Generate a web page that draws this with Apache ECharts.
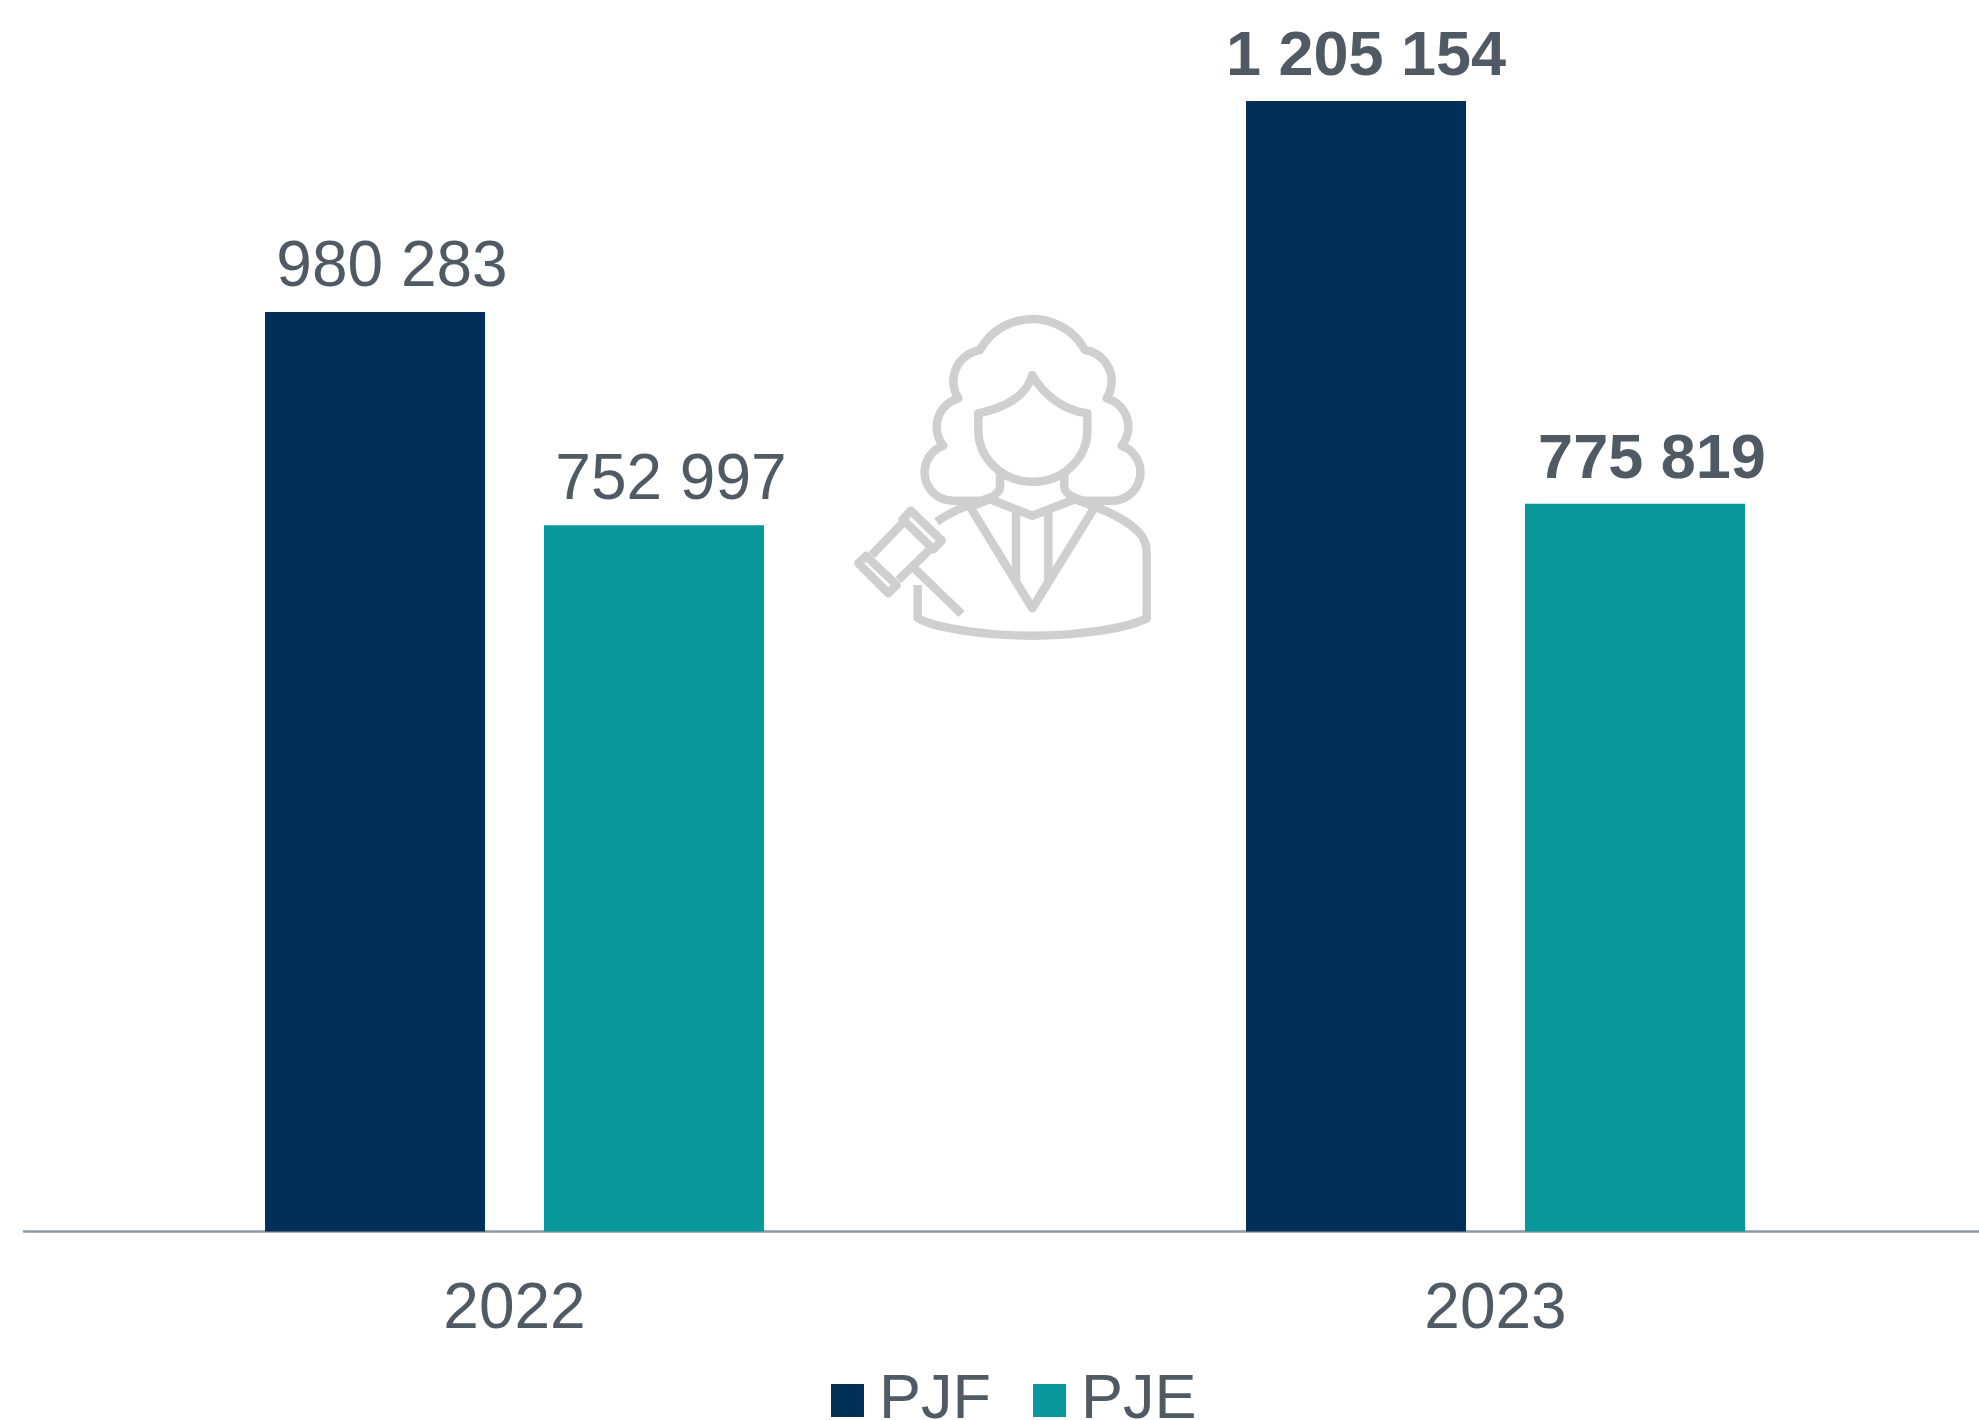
<!DOCTYPE html>
<html><head><meta charset="utf-8">
<style>html,body{margin:0;padding:0;background:#fff}#c{width:1979px;height:1420px}</style>
<script src="https://cdn.jsdelivr.net/npm/echarts@6/dist/echarts.min.js"></script>
</head><body><div id="c"></div>
<script>
const categories = ['2022', '2023'];
const pjf = [980283, 1205154];
const pje = [752997, 775819];
const seriesNames = ['PJF', 'PJE'];

const TXT = '#505a64';
const FONT = '"Liberation Sans", Arial, sans-serif';
const fmt = p => String(p.value).replace(/\B(?=(\d{3})+$)/g, ' ');
const item = (v, dx, bold) => ({
  value: v,
  label: { offset: [dx, 0], fontWeight: bold ? 'bold' : 'normal', fontSize: bold ? 63 : 64 }
});

const iconPath =
  'M0 0M1050 1110' +
  // hair
  'M510 550L510 590Q510 615 455 632L370 632A85 85 0 0 1 340 467A89 89 0 0 1 385 325A95 95 0 0 1 450 180' +
  'A180 180 0 0 1 765 180A95 95 0 0 1 830 325A89 89 0 0 1 875 467A85 85 0 0 1 845 632' +
  'L760 632Q703 615 703 590L703 550' +
  // face
  'M445 370L445 420A163 155 0 0 0 772 420L772 370' +
  'C700 360 640 315 607 255C590 320 520 355 445 370Z' +
  // collar and lapels
  'M420 650L480 628L607 677L735 628L795 650L607 955Z' +
  // tie
  'M558 665L558 875L607 955L655 875L655 665' +
  // jacket
  'M320 695C355 672 385 655 420 645' +
  'M795 650C850 670 900 700 925 725C945 745 950 770 950 790L950 985' +
  'C880 1020 720 1037 607 1037C490 1037 330 1020 263 985L263 885' +
  // gavel
  'M250 832L395 972' +
  'M242 662L335 752L310 778L218 688Z' +
  'M108 798L200 885L175 910L85 820Z' +
  'M222 695L125 795M300 778L205 870';

const chart = echarts.init(document.getElementById('c'), null, { renderer: 'canvas' });
chart.setOption({
  animation: false,
  backgroundColor: '#fff',
  textStyle: { fontFamily: FONT },
  legend: {
    data: seriesNames,
    left: 826, top: 1364,
    icon: 'rect', itemWidth: 33, itemHeight: 33, itemGap: 42,
    textStyle: { color: TXT, fontSize: 63, fontFamily: FONT, padding: [18, 0, 0, 10] }
  },
  grid: { left: 24, width: 1962, top: 12, height: 1219.5, containLabel: false, outerBoundsMode: 'none' },
  xAxis: {
    type: 'category', data: categories,
    axisTick: { show: false },
    axisLine: { lineStyle: { color: '#8a99a6', width: 2.5 } },
    axisLabel: { color: TXT, fontSize: 64, fontFamily: FONT, margin: 47 }
  },
  yAxis: { type: 'value', min: 0, max: 1300000, show: false },
  series: [
    {
      name: seriesNames[0], type: 'bar', barWidth: 220, barGap: '26.8%',
      itemStyle: { color: '#003058' },
      label: { show: true, position: 'top', distance: 12, color: TXT, fontSize: 64, fontFamily: FONT, formatter: fmt },
      data: [item(pjf[0], 17, false), item(pjf[1], 10, true)]
    },
    {
      name: seriesNames[1], type: 'bar', barWidth: 220,
      itemStyle: { color: '#08989c' },
      label: { show: true, position: 'top', distance: 12, color: TXT, fontSize: 64, fontFamily: FONT, formatter: fmt },
      data: [item(pje[0], 17, false), item(pje[1], 17, true)]
    },
    {
      type: 'custom', coordinateSystem: 'none', silent: true, data: [0], z: 5,
      renderItem: () => ({
        type: 'path',
        shape: { pathData: iconPath, x: 830, y: 290, width: 350, height: 370, layout: 'cover' },
        style: { fill: 'none', stroke: '#cfcfcf', lineWidth: 8.5, lineJoin: 'round', lineCap: 'butt' }
      })
    }
  ]
});
</script></body></html>
